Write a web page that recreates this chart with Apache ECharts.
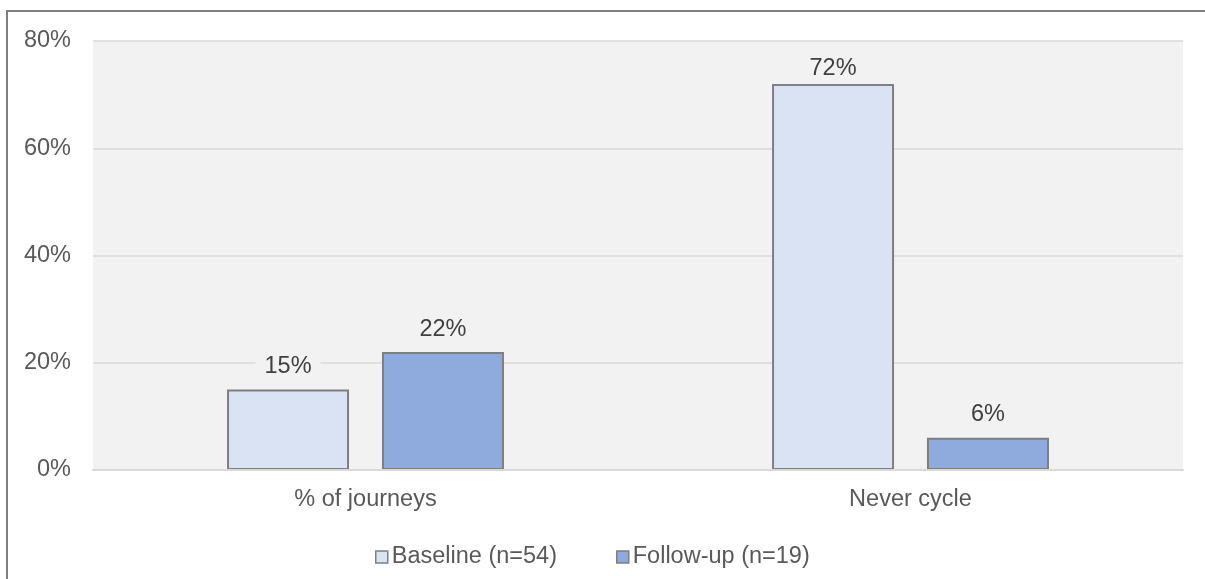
<!DOCTYPE html>
<html>
<head>
<meta charset="utf-8">
<script src="https://cdn.jsdelivr.net/npm/echarts@6/dist/echarts.min.js"></script>
<style>
html,body{margin:0;padding:0;background:#fff;}
#chart{width:1205px;height:579px;}
</style>
</head>
<body>
<div id="chart"></div>
<script>
var categories = ['% of journeys', 'Never cycle'];
var seriesNames = ['Baseline (n=54)', 'Follow-up (n=19)'];
var baselineValues = [15, 72];
var followupValues = [22, 6];
var yTicks = {min: 0, max: 80, interval: 20};

var FONT = '"Liberation Sans", Arial, sans-serif';
var FS = 23.5;

var chart = echarts.init(document.getElementById('chart'), null, {renderer: 'canvas'});

function labelCfg() {
  return {
    show: true,
    position: 'top',
    distance: 9,
    formatter: '{c}%',
    color: '#404040',
    fontFamily: FONT,
    fontSize: FS,
    backgroundColor: '#f2f2f2',
    padding: [2, 9, 2, 9]
  };
}

// keep labels inside the plot area (like the source spreadsheet does)
function keepInside(params) {
  var minTop = 55;
  if (params.labelRect.y < minTop) {
    return {dy: minTop - params.labelRect.y};
  }
  return {};
}

var option = {
  animation: false,
  backgroundColor: '#ffffff',
  textStyle: {fontFamily: FONT},
  graphic: [{
    type: 'rect',
    shape: {x: 7, y: 11, width: 1400, height: 800},
    style: {fill: 'none', stroke: '#7f7f7f', lineWidth: 2},
    silent: true,
    z: -10
  }],
  grid: {
    left: 93, right: 22, top: 41, bottom: 109,
    show: true, backgroundColor: '#f2f2f2', borderWidth: 0,
    containLabel: false
  },
  legend: {
    left: 370, top: 540,
    itemWidth: 12, itemHeight: 12, itemGap: 59,
    icon: 'rect',
    textStyle: {color: '#595959', fontSize: FS, fontFamily: FONT, padding: [0, 0, 0, -1]},
    itemStyle: {borderWidth: 1.5, borderColor: '#7f7f7f'},
    data: seriesNames
  },
  xAxis: {
    type: 'category',
    data: categories,
    z: 3,
    axisLine: {show: true, lineStyle: {color: '#d9d9d9', width: 2}},
    axisTick: {show: false},
    axisLabel: {color: '#595959', fontSize: FS, fontFamily: FONT, margin: 18}
  },
  yAxis: {
    type: 'value',
    min: yTicks.min, max: yTicks.max, interval: yTicks.interval,
    axisLine: {show: false},
    axisTick: {show: false},
    splitLine: {lineStyle: {color: '#d9d9d9', width: 1.5}},
    axisLabel: {color: '#595959', fontSize: FS, fontFamily: FONT, margin: 22, formatter: '{value}%',
      lineHeight: 30, padding: [6, 0, 0, 0]}
  },
  series: [{
    name: seriesNames[0],
    type: 'bar',
    data: baselineValues,
    barWidth: 122,
    barGap: '27%',
    itemStyle: {color: '#dae3f3', borderColor: '#7f7f7f', borderWidth: 2},
    label: labelCfg(),
    labelLayout: keepInside
  }, {
    name: seriesNames[1],
    type: 'bar',
    data: followupValues,
    barWidth: 122,
    barGap: '27%',
    itemStyle: {color: '#8faadc', borderColor: '#7f7f7f', borderWidth: 2},
    label: labelCfg(),
    labelLayout: keepInside
  }]
};
chart.setOption(option);
</script>
</body>
</html>
